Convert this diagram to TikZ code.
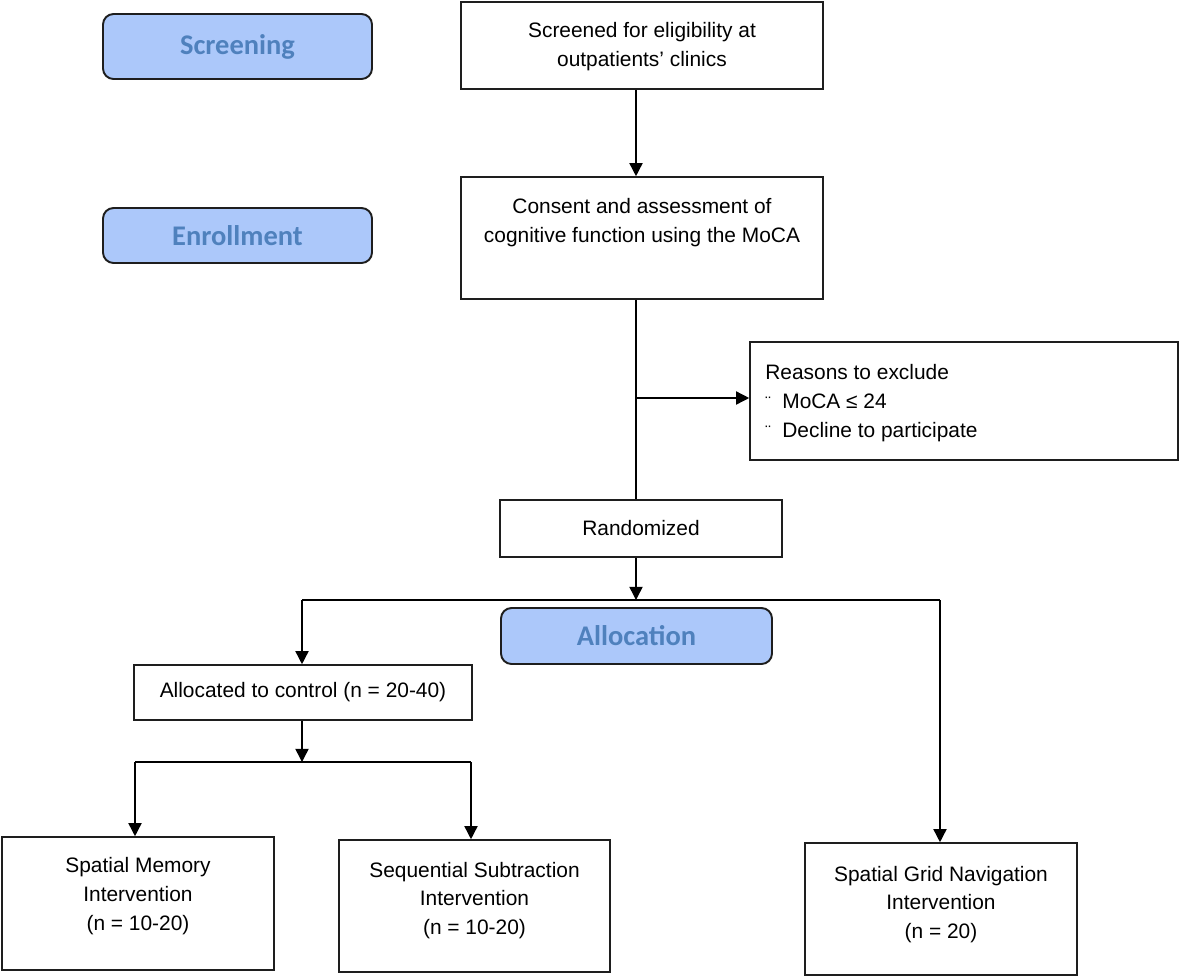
\documentclass[tikz,border=0pt]{standalone}
\usepackage{fontspec}
\setmainfont{Liberation Sans}
\newfontfamily\labfont{Carlito}
\usetikzlibrary{arrows.meta}
\definecolor{labfill}{RGB}{172,200,250}
\definecolor{labtext}{RGB}{79,129,189}
\definecolor{edge}{RGB}{30,30,30}
\begin{document}
\begin{tikzpicture}[x=0.02cm,y=-0.02cm,
  box/.style={draw=edge,line width=0.9pt,fill=white,inner sep=0pt},
  lab/.style={draw=edge,line width=1.1pt,fill=labfill,rounded corners=6pt,inner sep=0pt,
    text=labtext,font=\labfont\bfseries\fontsize{16.2}{18}\selectfont},
  txt/.style={align=center,inner sep=0pt,font=\fontsize{11.9}{16.4}\selectfont},
  conn/.style={draw=black,line width=0.85pt},
  arr/.style={conn,-{Triangle[length=7.5pt,width=7.5pt]}}]
\useasboundingbox (0,0) rectangle (1181,978);
% label boxes
\node[lab,minimum width=269*0.02cm,minimum height=65*0.02cm] (lscr) at (237.5,46.5) {Screening};
\node[lab,minimum width=269*0.02cm,minimum height=55*0.02cm] (lenr) at (237.5,235.5) {Enrollment};
% main boxes
\node[box,minimum width=362*0.02cm,minimum height=87*0.02cm] (scr) at (642,45.5) {};
\node[txt] (tscr) at (642,46.5) {Screened for eligibility at\\outpatients’ clinics};
\node[box,minimum width=362*0.02cm,minimum height=122*0.02cm] (con) at (642,238) {};
\node[txt] (tcon) at (642,222.5) {Consent and assessment of\\cognitive function using the MoCA};
\node[box,minimum width=428*0.02cm,minimum height=118*0.02cm] (rea) at (964,401) {};
\node[txt,align=left,anchor=west] (trea) at (765,403) {Reasons to exclude\\
  {\fontsize{9.5}{9.5}\selectfont ¨}\hspace{6.5pt}MoCA ≤ 24\\
  {\fontsize{9.5}{9.5}\selectfont ¨}\hspace{6.5pt}Decline to participate};
\node[box,minimum width=282*0.02cm,minimum height=57*0.02cm] (ran) at (641,528.5) {};
\node[txt] (tran) at (641,528.5) {Randomized};
\node[lab,minimum width=271*0.02cm,minimum height=56*0.02cm] (lall) at (636.5,636) {Allocation};
\node[box,minimum width=338*0.02cm,minimum height=55*0.02cm] (alc) at (303,692.5) {};
\node[txt] (talc) at (303,692.5) {Allocated to control (n = 20-40)};
\node[box,minimum width=272*0.02cm,minimum height=133*0.02cm] (spm) at (138,903.5) {};
\node[txt] (tspm) at (138,896) {Spatial Memory\\Intervention\\(n = 10-20)};
\node[box,minimum width=271*0.02cm,minimum height=132*0.02cm] (seq) at (474.5,906) {};
\node[txt] (tseq) at (474.5,900.5) {Sequential Subtraction\\Intervention\\(n = 10-20)};
\node[box,minimum width=272*0.02cm,minimum height=132*0.02cm] (sgn) at (941,909) {};
\node[txt] (tsgn) at (941,904.5) {Spatial Grid Navigation\\Intervention\\(n = 20)};
% connectors
\coordinate (sp) at (636,0);
\coordinate (br) at (636,398);
\coordinate (split) at (636,600);
\coordinate (sl) at (302,600);
\coordinate (sr) at (940,600);
\coordinate (split2) at (302,762);
\coordinate (l2) at (135,762);
\coordinate (r2) at (471,762);
\draw[arr] (scr.south -| sp) -- (con.north -| sp);
\draw[conn] (con.south -| sp) -- (ran.north -| sp);
\draw[arr] (br) -- (rea.west |- br);
\draw[arr] (ran.south -| sp) -- (split);
\draw[conn] (sl) -- (sr);
\draw[arr] (sl) -- (sl |- alc.north);
\draw[arr] (sr) -- (sr |- sgn.north);
\draw[arr] (alc.south -| split2) -- (split2);
\draw[conn] (l2) -- (r2);
\draw[arr] (l2) -- (l2 |- spm.north);
\draw[arr] (r2) -- (r2 |- seq.north);
\end{tikzpicture}
\end{document}
